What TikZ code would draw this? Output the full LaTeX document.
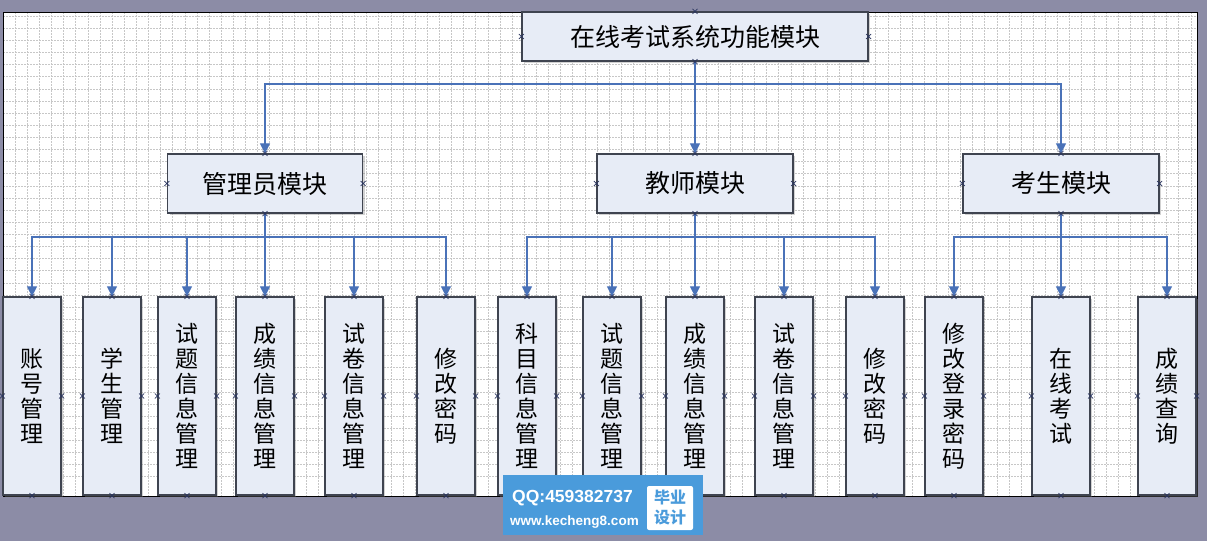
\documentclass[tikz,border=0pt]{standalone}
\usepackage{fontspec}
\newfontfamily\cjk{Noto Sans CJK SC}
\newfontfamily\wmfont{Liberation Sans}
\usetikzlibrary{shadows,arrows.meta}
\definecolor{bgc}{HTML}{8C8CA6}
\definecolor{boxfill}{HTML}{E7ECF6}
\definecolor{boxline}{HTML}{3F4450}
\definecolor{conn}{HTML}{4A72B8}
\definecolor{wmblue}{HTML}{4A9BDB}
\definecolor{xmk}{HTML}{2A3560}
\begin{document}
\begin{tikzpicture}[x=1pt,y=-1pt,
  gridline/.style={draw=black!22, line width=0.5pt, dash pattern=on 1.5pt off 1.5pt},
  box/.style={draw=boxline, line width=1.2pt, fill=boxfill, inner sep=0pt,
    drop shadow={opacity=0.35, shadow xshift=2pt, shadow yshift=-2pt}},
  topbox/.style={box, font=\cjk\fontsize{25}{27}\selectfont},
  leaf/.style={box, minimum width=58pt, minimum height=198pt, align=center,
    font=\cjk\fontsize{23}{25}\selectfont},
  arr/.style={draw=conn, line width=1.1pt, -{Triangle[length=10pt,width=10pt]}},
  trunk/.style={draw=conn, line width=1.8pt},
  xmark/.style={draw=xmk, line width=0.6pt}]
\useasboundingbox (0,0) rectangle (1207,541);
\fill[bgc] (0,0) rectangle (1207,541);
\fill[white] (3,12) rectangle (1197,496);
\foreach \i in {1,...,98} {\draw[gridline] ({3+12.12*\i},12) -- ++(0,484);}
\foreach \i in {1,...,39} {\draw[gridline] (3,{4+12.12*\i}) -- ++(1194,0);}
\draw[black, line width=1pt] (3,12) rectangle (1197,496);

% nodes
\node[topbox, minimum width=346pt, minimum height=49pt] (top) at (695,36.5) {在线考试系统功能模块};
\node[topbox, minimum width=195pt, minimum height=59pt] (adm) at (265,183.5) {管理员模块};
\node[topbox, minimum width=196pt, minimum height=59pt] (tea) at (695,183.5) {教师模块};
\node[topbox, minimum width=196pt, minimum height=59pt] (stu) at (1061,183.5) {考生模块};

\node[leaf] (l1) at (32,396) {账\\号\\管\\理};
\node[leaf] (l2) at (112,396) {学\\生\\管\\理};
\node[leaf] (l3) at (187,396) {试\\题\\信\\息\\管\\理};
\node[leaf] (l4) at (265,396) {成\\绩\\信\\息\\管\\理};
\node[leaf] (l5) at (354,396) {试\\卷\\信\\息\\管\\理};
\node[leaf] (l6) at (446,396) {修\\改\\密\\码};
\node[leaf] (l7) at (527,396) {科\\目\\信\\息\\管\\理};
\node[leaf] (l8) at (612,396) {试\\题\\信\\息\\管\\理};
\node[leaf] (l9) at (695,396) {成\\绩\\信\\息\\管\\理};
\node[leaf] (l10) at (784,396) {试\\卷\\信\\息\\管\\理};
\node[leaf] (l11) at (875,396) {修\\改\\密\\码};
\node[leaf] (l12) at (954,396) {修\\改\\登\\录\\密\\码};
\node[leaf] (l13) at (1061,396) {在\\线\\考\\试};
\node[leaf] (l14) at (1167,396) {成\\绩\\查\\询};

% connectors
\coordinate (b0) at (695,84);
\coordinate (ba) at (265,237);
\coordinate (bt) at (695,237);
\coordinate (bs) at (1061,237);
\draw[trunk] (top.south) -- (b0);
\foreach \n in {adm,tea,stu} {\draw[arr] (b0) -| (\n.north);}
\draw[trunk] (adm.south) -- (ba);
\foreach \n in {l1,l2,l3,l4,l5,l6} {\draw[arr] (ba) -| (\n.north);}
\draw[trunk] (tea.south) -- (bt);
\foreach \n in {l7,l8,l9,l10,l11} {\draw[arr] (bt) -| (\n.north);}
\draw[trunk] (stu.south) -- (bs);
\foreach \n in {l12,l13,l14} {\draw[arr] (bs) -| (\n.north);}

% connection point markers
\foreach \n in {top,adm,tea,stu,l1,l2,l3,l4,l5,l6,l7,l8,l9,l10,l11,l12,l13,l14} {
  \foreach \a in {north,south,east,west} {
    \draw[xmark] (\n.\a) +(-2.5,-2.5) -- +(2.5,2.5) +(-2.5,2.5) -- +(2.5,-2.5);
  }
}

% watermark
\fill[wmblue] (503,475) rectangle (703,535);
\fill[white, rounded corners=2pt] (647,486) rectangle (693,530);
\node[text=white, font=\wmfont\bfseries\fontsize{17.5}{19}\selectfont, anchor=west, inner sep=0pt] (wq) at (512,498) {QQ:459382737};
\node[text=white, font=\wmfont\bfseries\fontsize{13.5}{15}\selectfont, anchor=west, inner sep=0pt] (ww) at (510,522) {www.kecheng8.com};
\node[text=wmblue, font=\cjk\bfseries\fontsize{16}{20}\selectfont, align=center, inner sep=0pt] (wb) at (670,508) {毕业\\设计};
\end{tikzpicture}
\end{document}
